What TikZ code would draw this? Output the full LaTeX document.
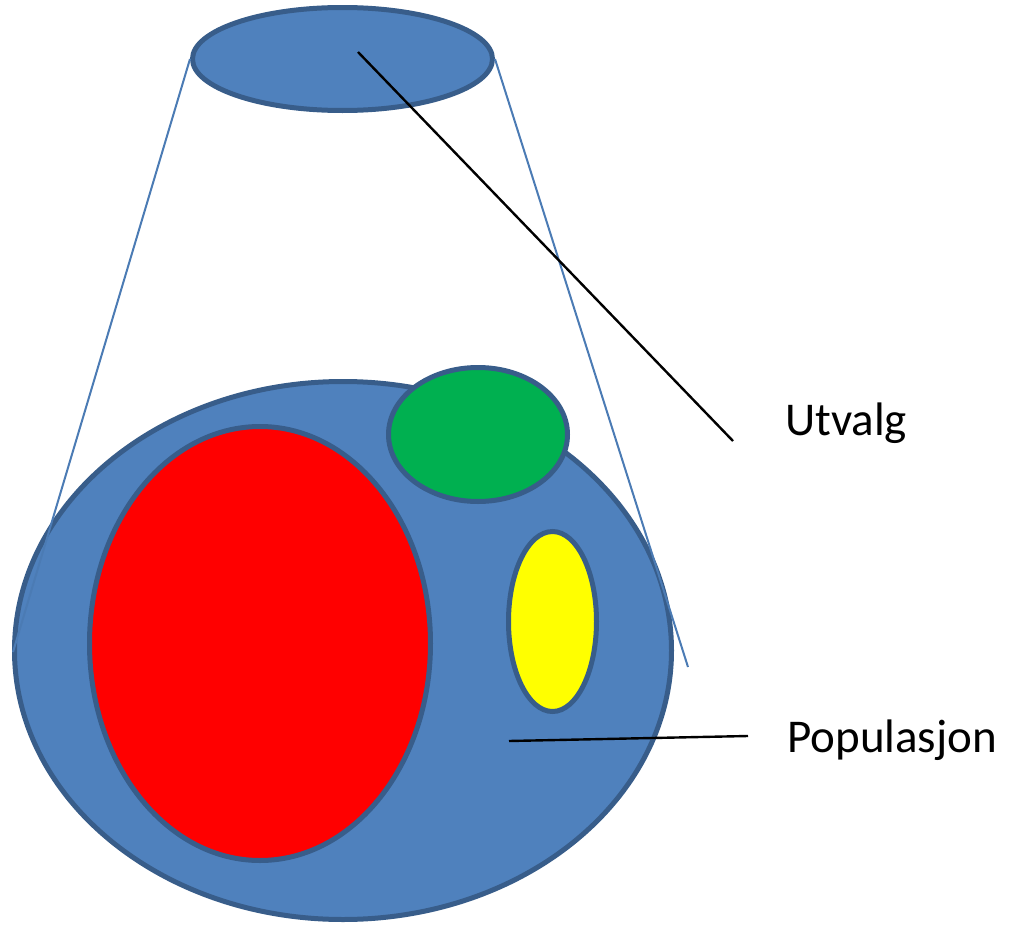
\documentclass[tikz,border=0pt]{standalone}
\usepackage{fontspec}
\setmainfont{Carlito}
\usepackage{tikz}
\usetikzlibrary{shapes.geometric,positioning}
\definecolor{popfill}{HTML}{4F81BD}
\definecolor{popborder}{HTML}{385D8A}
\definecolor{redfill}{HTML}{FF0000}
\definecolor{greenfill}{HTML}{00B050}
\definecolor{yellowfill}{HTML}{FFFF00}

\begin{document}
\begin{tikzpicture}[
  x=1pt, y=-1pt,
  font=\fontsize{47}{56}\selectfont,
  blob/.style={ellipse, draw=popborder, line width=5pt, inner sep=0pt, fill=popfill},
  cone/.style={draw=popfill!95!black, line width=2pt},
  pointer/.style={draw=black, line width=2.4pt},
  label/.style={anchor=base west, inner sep=0pt, text=black}
]
\useasboundingbox (0,0) rectangle (1010,926);
\node[blob, minimum width=300pt, minimum height=103pt] (sample) at (342.5,59) {};
\node[blob, minimum width=657pt, minimum height=538pt] (pop) at (343,650.5) {};
\coordinate (coneL) at (13,652);
\coordinate (coneR) at (688,667);
\draw[cone] (sample.west) -- (coneL);
\draw[cone] (sample.east) -- (coneR);
\node[blob, fill=redfill, minimum width=341pt, minimum height=434pt] (red) at (260,643.5) {};
\node[blob, fill=greenfill, minimum width=179pt, minimum height=134pt] (green) at (478,434.5) {};
\node[blob, fill=yellowfill, minimum width=88pt, minimum height=180pt] (yellow) at (552.5,621.5) {};
\node[label] (utvalg) at (785,435) {Utvalg};
\node[label] (populasjon) at (787,752) {Populasjon};
\coordinate (ptrS) at (358,52);
\coordinate (ptrSend) at (733,441);
\coordinate (ptrP) at (509,741);
\coordinate (ptrPend) at (748,736);
\draw[pointer] (ptrS) -- (ptrSend);
\draw[pointer] (ptrP) -- (ptrPend);
\end{tikzpicture}
\end{document}
